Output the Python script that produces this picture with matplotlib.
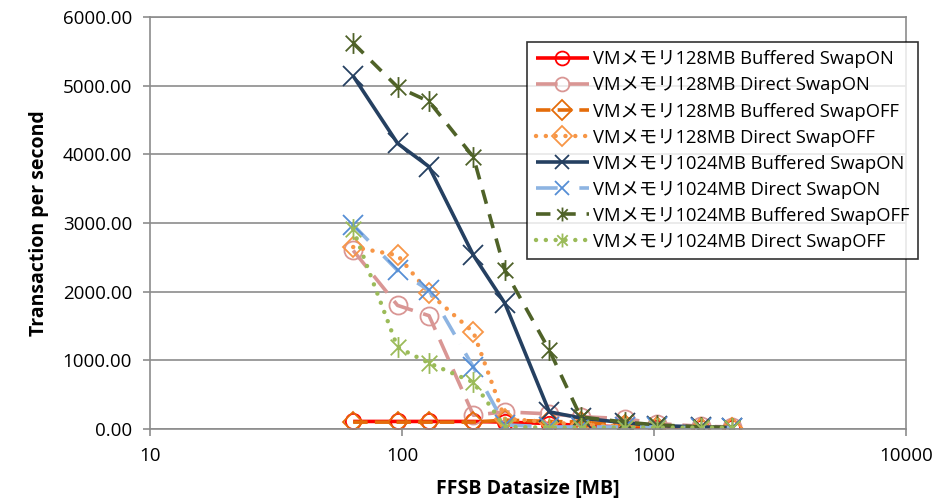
import matplotlib
matplotlib.use("Agg")
import matplotlib.pyplot as plt
from matplotlib.path import Path
from matplotlib.ticker import FixedLocator, NullLocator, FuncFormatter
import numpy as np

plt.rcParams['font.family'] = ['Open Sans', 'Noto Sans CJK JP', 'DejaVu Sans']

datasize = [64, 96, 128, 192, 256, 384, 512, 768, 1024, 1536, 2048]

labels = [
    "VMメモリ128MB Buffered SwapON",
    "VMメモリ128MB Direct SwapON",
    "VMメモリ128MB Buffered SwapOFF",
    "VMメモリ128MB Direct SwapOFF",
    "VMメモリ1024MB Buffered SwapON",
    "VMメモリ1024MB Direct SwapON",
    "VMメモリ1024MB Buffered SwapOFF",
    "VMメモリ1024MB Direct SwapOFF",
]

s128_buf_on = [110, 110, 110, 110, 100, 80, 50, 30, 20, 20, 20]
s128_dir_on = [2600, 1800, 1650, 200, 250, 220, 180, 150, 80, 40, 30]
s128_buf_off = [100, 100, 100, 100, 130, 110, 100, 60, 30, 20, 20]
s128_dir_off = [2650, 2530, 1980, 1410, 150, 100, 60, 40, 30, 20, 20]
s1024_buf_on = [5140, 4160, 3820, 2530, 1830, 250, 160, 90, 50, 30, 20]
s1024_dir_on = [2970, 2310, 2020, 900, 60, 30, 30, 30, 30, 20, 20]
s1024_buf_off = [5620, 4980, 4770, 3960, 2310, 1150, 175, 100, 60, 30, 20]
s1024_dir_off = [2910, 1190, 960, 680, 30, 20, 20, 20, 20, 20, 20]

series = [s128_buf_on, s128_dir_on, s128_buf_off, s128_dir_off,
          s1024_buf_on, s1024_dir_on, s1024_buf_off, s1024_dir_off]

# asterisk marker: X plus vertical line
ast = Path([(0, -1), (0, 1), (-0.75, -0.75), (0.75, 0.75), (-0.75, 0.75), (0.75, -0.75)],
           [Path.MOVETO, Path.LINETO, Path.MOVETO, Path.LINETO, Path.MOVETO, Path.LINETO])

styles = [
    dict(color='#FF0000', ls='-', marker='o', mec='#FF0000', ms=11, dashes=None),
    dict(color='#D99694', ls='--', marker='o', mec='#D99694', ms=13, dashes=(6, 3)),
    dict(color='#E46C0A', ls='--', marker='D', mec='#E46C0A', ms=10, dashes=(4, 2)),
    dict(color='#F79646', ls=':', marker='D', mec='#F79646', ms=10, dashes=(0.01, 2.2)),
    dict(color='#254061', ls='-', marker='x', mec='#254061', ms=14, dashes=None),
    dict(color='#8DB4E2', ls='-.', marker='x', mec='#558ED5', ms=14, dashes=(6, 3, 0.01, 3)),
    dict(color='#4F6228', ls='--', marker=ast, mec='#4F6228', ms=15, dashes=(4, 3)),
    dict(color='#9BBB59', ls=':', marker=ast, mec='#9BBB59', ms=15, dashes=(0.01, 2.2)),
]

fig = plt.figure(figsize=(9.52, 5.0), dpi=100)
ax = fig.add_axes([0.1576, 0.142, 0.7941, 0.824])

handles = []
for lab, vals, st in zip(labels, series, styles):
    kw = dict(color=st['color'], lw=2.6, marker=st['marker'], mec=st['mec'],
              mfc='none', ms=st['ms'], mew=1.3, label=lab, solid_capstyle='butt')
    line, = ax.plot(datasize, vals, **kw)
    if st['dashes'] is not None:
        line.set_dashes(st['dashes'])
        if st['ls'] == ':':
            line.set_dash_capstyle('round')
            line.set_linewidth(3.2)
        else:
            line.set_dash_capstyle('butt')
    handles.append(line)

ax.set_xscale('log')
ax.set_xlim(10, 10000)
ax.set_ylim(0, 6000)
ax.xaxis.set_major_locator(FixedLocator([10, 100, 1000, 10000]))
ax.xaxis.set_minor_locator(NullLocator())
ax.xaxis.set_major_formatter(FuncFormatter(lambda v, p: f"{int(v)}"))
ax.yaxis.set_major_locator(FixedLocator(np.arange(0, 6001, 1000)))
ax.yaxis.set_major_formatter(FuncFormatter(lambda v, p: f"{v:.2f}"))
ax.grid(axis='y', color='#8C8C8C', lw=1.2)
ax.set_axisbelow(True)
for sp in ax.spines.values():
    sp.set_color('#8C8C8C')
    sp.set_linewidth(1.2)
ax.tick_params(axis='both', labelsize=13.5, color='#8C8C8C', length=5, width=1.2)
ax.tick_params(axis='y', pad=8)
ax.tick_params(axis='x', pad=8)

ax.set_xlabel("FFSB Datasize [MB]", fontsize=14, fontweight='bold', labelpad=10)
ax.set_ylabel("Transaction per second", fontsize=14, fontweight='bold', labelpad=10)

leg = ax.legend(handles=handles, loc='upper left', bbox_to_anchor=(0.499, 0.939), numpoints=1,
                frameon=True, fancybox=False, edgecolor='#000000',
                handlelength=2.9, borderpad=0.45, labelspacing=0.44, handletextpad=0.25,
                borderaxespad=0,
                prop={'family': ['Open Sans', 'Noto Sans CJK JP'], 'size': 13.2})
leg.get_frame().set_linewidth(1.2)
leg.set_zorder(5)
for h in leg.legend_handles:
    h.set_markersize(10)

fig.savefig("out.png", dpi=100)
